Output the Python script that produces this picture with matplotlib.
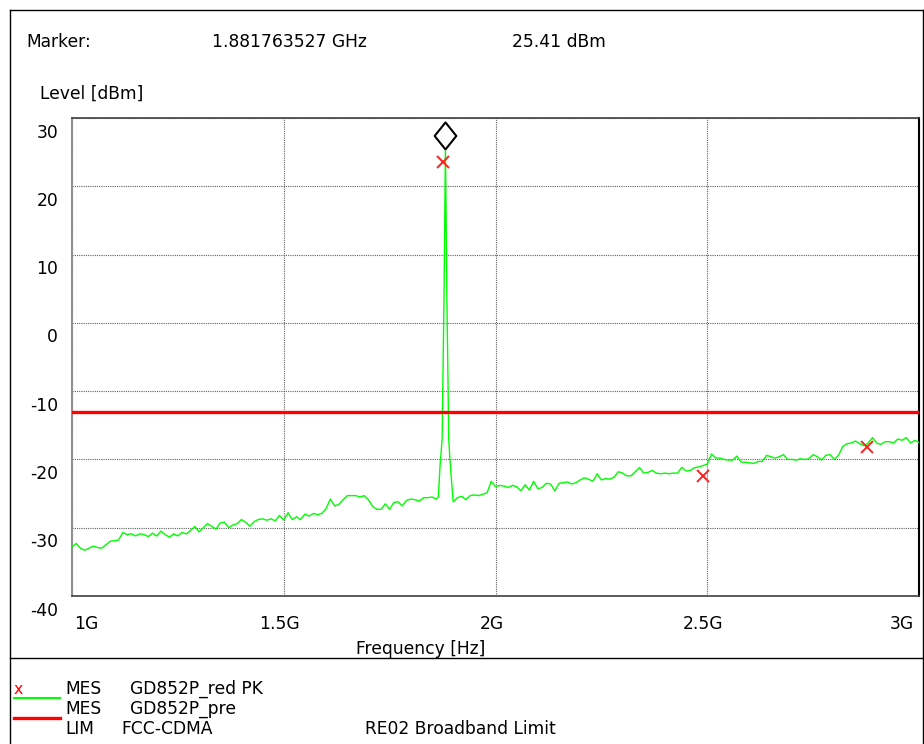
import matplotlib
matplotlib.use("Agg")
import matplotlib.pyplot as plt
import numpy as np
from matplotlib.transforms import ScaledTranslation
from matplotlib.lines import Line2D

# sweep 1 GHz .. 3 GHz, 10 MHz steps below and above the carrier
sweep_lo_ghz = np.round(np.arange(1.00, 1.865, 0.01), 2)
level_lo = [
    -32.8, -32.3, -33.0, -33.3, -33.0, -32.7, -32.9, -33.0, -32.5, -32.0,
    -31.9, -31.8, -30.7, -31.0, -30.9, -31.2, -30.9, -31.0, -31.3, -30.8,
    -31.2, -30.5, -31.0, -31.4, -30.9, -31.2, -30.7, -30.9, -30.4, -29.8,
    -30.6, -30.0, -29.4, -29.8, -30.2, -29.3, -29.2, -30.0, -29.6, -29.4,
    -28.8, -29.2, -29.8, -29.1, -28.8, -28.7, -28.9, -28.7, -29.0, -28.2,
    -28.9, -27.8, -28.8, -28.4, -28.8, -28.0, -28.3, -27.9, -28.1, -27.9,
    -27.2, -25.8, -26.8, -26.6, -25.9, -25.3, -25.3, -25.3, -25.5, -25.3,
    -25.9, -26.9, -27.3, -27.3, -26.5, -27.3, -26.3, -26.2, -26.8, -26.0,
    -25.8, -25.9, -26.1, -25.6, -25.6, -25.5, -25.8,
]

# carrier
peak_ghz = [1.865, 1.869, 1.874, 1.8783, 1.881763527, 1.8853, 1.8896, 1.8925]
peak_level = [-25.5, -21.0, -17.0, 3.4, 25.41, 3.4, -17.0, -20.1]

sweep_hi_ghz = np.round(np.arange(1.90, 3.005, 0.01), 2)
level_hi = [
    -26.2, -25.6, -25.4, -25.9, -25.3, -25.2, -25.3, -25.1, -24.9, -23.2,
    -24.0, -23.8, -23.9, -24.1, -23.8, -24.0, -24.6, -23.7, -24.5, -23.2,
    -24.3, -24.1, -23.5, -23.6, -24.6, -23.5, -23.4, -23.3, -23.6, -23.4,
    -23.0, -22.7, -22.9, -23.2, -22.1, -23.0, -22.8, -22.9, -22.6, -21.8,
    -22.0, -22.4, -22.4, -21.8, -21.2, -22.0, -21.9, -21.6, -22.0, -22.1,
    -22.0, -22.1, -22.0, -22.0, -21.15, -21.7, -21.6, -21.2, -21.1, -20.9,
    -20.7, -19.2, -19.8, -19.8, -20.0, -20.1, -20.1, -19.5, -20.4, -20.4,
    -20.5, -20.6, -20.3, -20.3, -19.4, -19.6, -19.8, -19.6, -19.3, -20.0,
    -20.0, -20.1, -19.9, -20.0, -19.9, -19.3, -19.6, -20.1, -19.4, -19.3,
    -20.0, -19.4, -18.1, -17.7, -17.6, -17.3, -17.7, -18.0, -17.6, -16.8,
    -17.6, -17.8, -17.4, -17.4, -17.6, -17.0, -17.2, -16.8, -17.6, -17.2,
    -17.5,
]

# final measurement peaks (red x)
pk_ghz = [1.876, 2.489, 2.878]
pk_level = [23.6, -22.4, -18.2]

limit_dbm = -13.0
marker_ghz = 1.881763527
marker_dbm = 25.41

yticks = [-40, -30, -20, -10, 0, 10, 20, 30]
xticks = [1.0, 1.5, 2.0, 2.5, 3.0]
xlabels = ["1G", "1.5G", "2G", "2.5G", "3G"]

freq = np.concatenate([sweep_lo_ghz, peak_ghz, sweep_hi_ghz])
level = np.concatenate([level_lo, peak_level, level_hi])

W, H = 924, 744
FS = 12.3
plt.rcParams["font.family"] = "DejaVu Sans"

fig = plt.figure(figsize=(W / 100, H / 100), dpi=100)


def ftext(x, y, s, **kw):
    kw.setdefault("fontsize", FS)
    kw.setdefault("va", "center")
    fig.text(x / W, 1 - y / H, s, **kw)


def fline(x0, x1, y0, y1, **kw):
    fig.add_artist(Line2D([x0 / W, x1 / W], [1 - y0 / H, 1 - y1 / H],
                          transform=fig.transFigure, **kw))


ax = fig.add_axes([72 / W, 1 - 596 / H, 847 / W, 478 / H])
ax.set_xlim(1.0, 3.0)
ax.set_ylim(-40, 30)

grid_kw = dict(color="#606060", lw=0.8, ls=(0, (1, 1)))
ax.set_xticks(xticks)
ax.set_yticks(yticks)
ax.grid(True, **grid_kw)

ax.plot(freq, level, color="#00ff00", lw=1.0, zorder=3)
ax.axhline(limit_dbm, color="#ff0000", lw=2.4, zorder=4)
ax.plot(pk_ghz, pk_level, ls="none", marker="x", ms=8, mew=1.4,
        color="#ff2020", zorder=5)

# marker diamond sitting on top of the carrier
diamond = [(0, 0), (-0.8, 1), (0, 2), (0.8, 1), (0, 0)]
ax.plot([marker_ghz], [marker_dbm], marker=diamond, ms=39, mfc="white",
        mec="black", mew=1.5, ls="none", zorder=6, clip_on=False)

for side in ("top", "bottom"):
    ax.spines[side].set_linestyle((0, (1, 1)))
    ax.spines[side].set_color("#404040")
    ax.spines[side].set_linewidth(1.2)
ax.spines["left"].set_color("#909090")
ax.spines["left"].set_linewidth(1.5)
ax.spines["right"].set_color("black")
ax.spines["right"].set_linewidth(1.5)

ax.tick_params(length=0, labelsize=FS)
ax.tick_params(axis="y", pad=10)
ax.tick_params(axis="x", pad=14)
ax.set_yticklabels([str(v) for v in yticks])
ax.set_xticklabels(xlabels)
shift = ScaledTranslation(0, -12.5 / 100, fig.dpi_scale_trans)
for lbl in ax.get_yticklabels():
    lbl.set_transform(lbl.get_transform() + shift)
xl = ax.get_xticklabels()
xl[0].set_horizontalalignment("left")
xl[0].set_transform(xl[0].get_transform() + ScaledTranslation(2 / 100, 0, fig.dpi_scale_trans))
xl[-1].set_horizontalalignment("right")
xl[-1].set_transform(xl[-1].get_transform() + ScaledTranslation(-5 / 100, 0, fig.dpi_scale_trans))
for lbl in xl[1:-1]:
    lbl.set_transform(lbl.get_transform() + ScaledTranslation(-4 / 100, 0, fig.dpi_scale_trans))

# header
ftext(26, 42, "Marker:")
ftext(212, 42, "1.881763527 GHz")
ftext(512, 42, "25.41 dBm")
ftext(40, 94, "Level [dBm]")
ftext(421, 649, "Frequency [Hz]", ha="center")

# outer frame and legend separator
fline(10, 10, 10, 744, color="black", lw=1.0)
fline(10, 924, 10, 10, color="black", lw=1.0)
fline(923, 923, 10, 744, color="black", lw=1.0)
fline(10, 924, 658, 658, color="black", lw=1.0)

# legend block
ftext(14, 690, "x", color="#ff0000", fontsize=FS - 1)
fline(14, 60, 698, 698, color="#00ff00", lw=1.5)
fline(14, 60, 718, 718, color="#ff0000", lw=2.4)
ftext(65, 689, "MES")
ftext(130, 689, "GD852P_red PK")
ftext(65, 709, "MES")
ftext(130, 709, "GD852P_pre")
ftext(65, 729, "LIM")
ftext(121, 729, "FCC-CDMA")
ftext(365, 729, "RE02 Broadband Limit")

fig.savefig("out.png", dpi=100)
